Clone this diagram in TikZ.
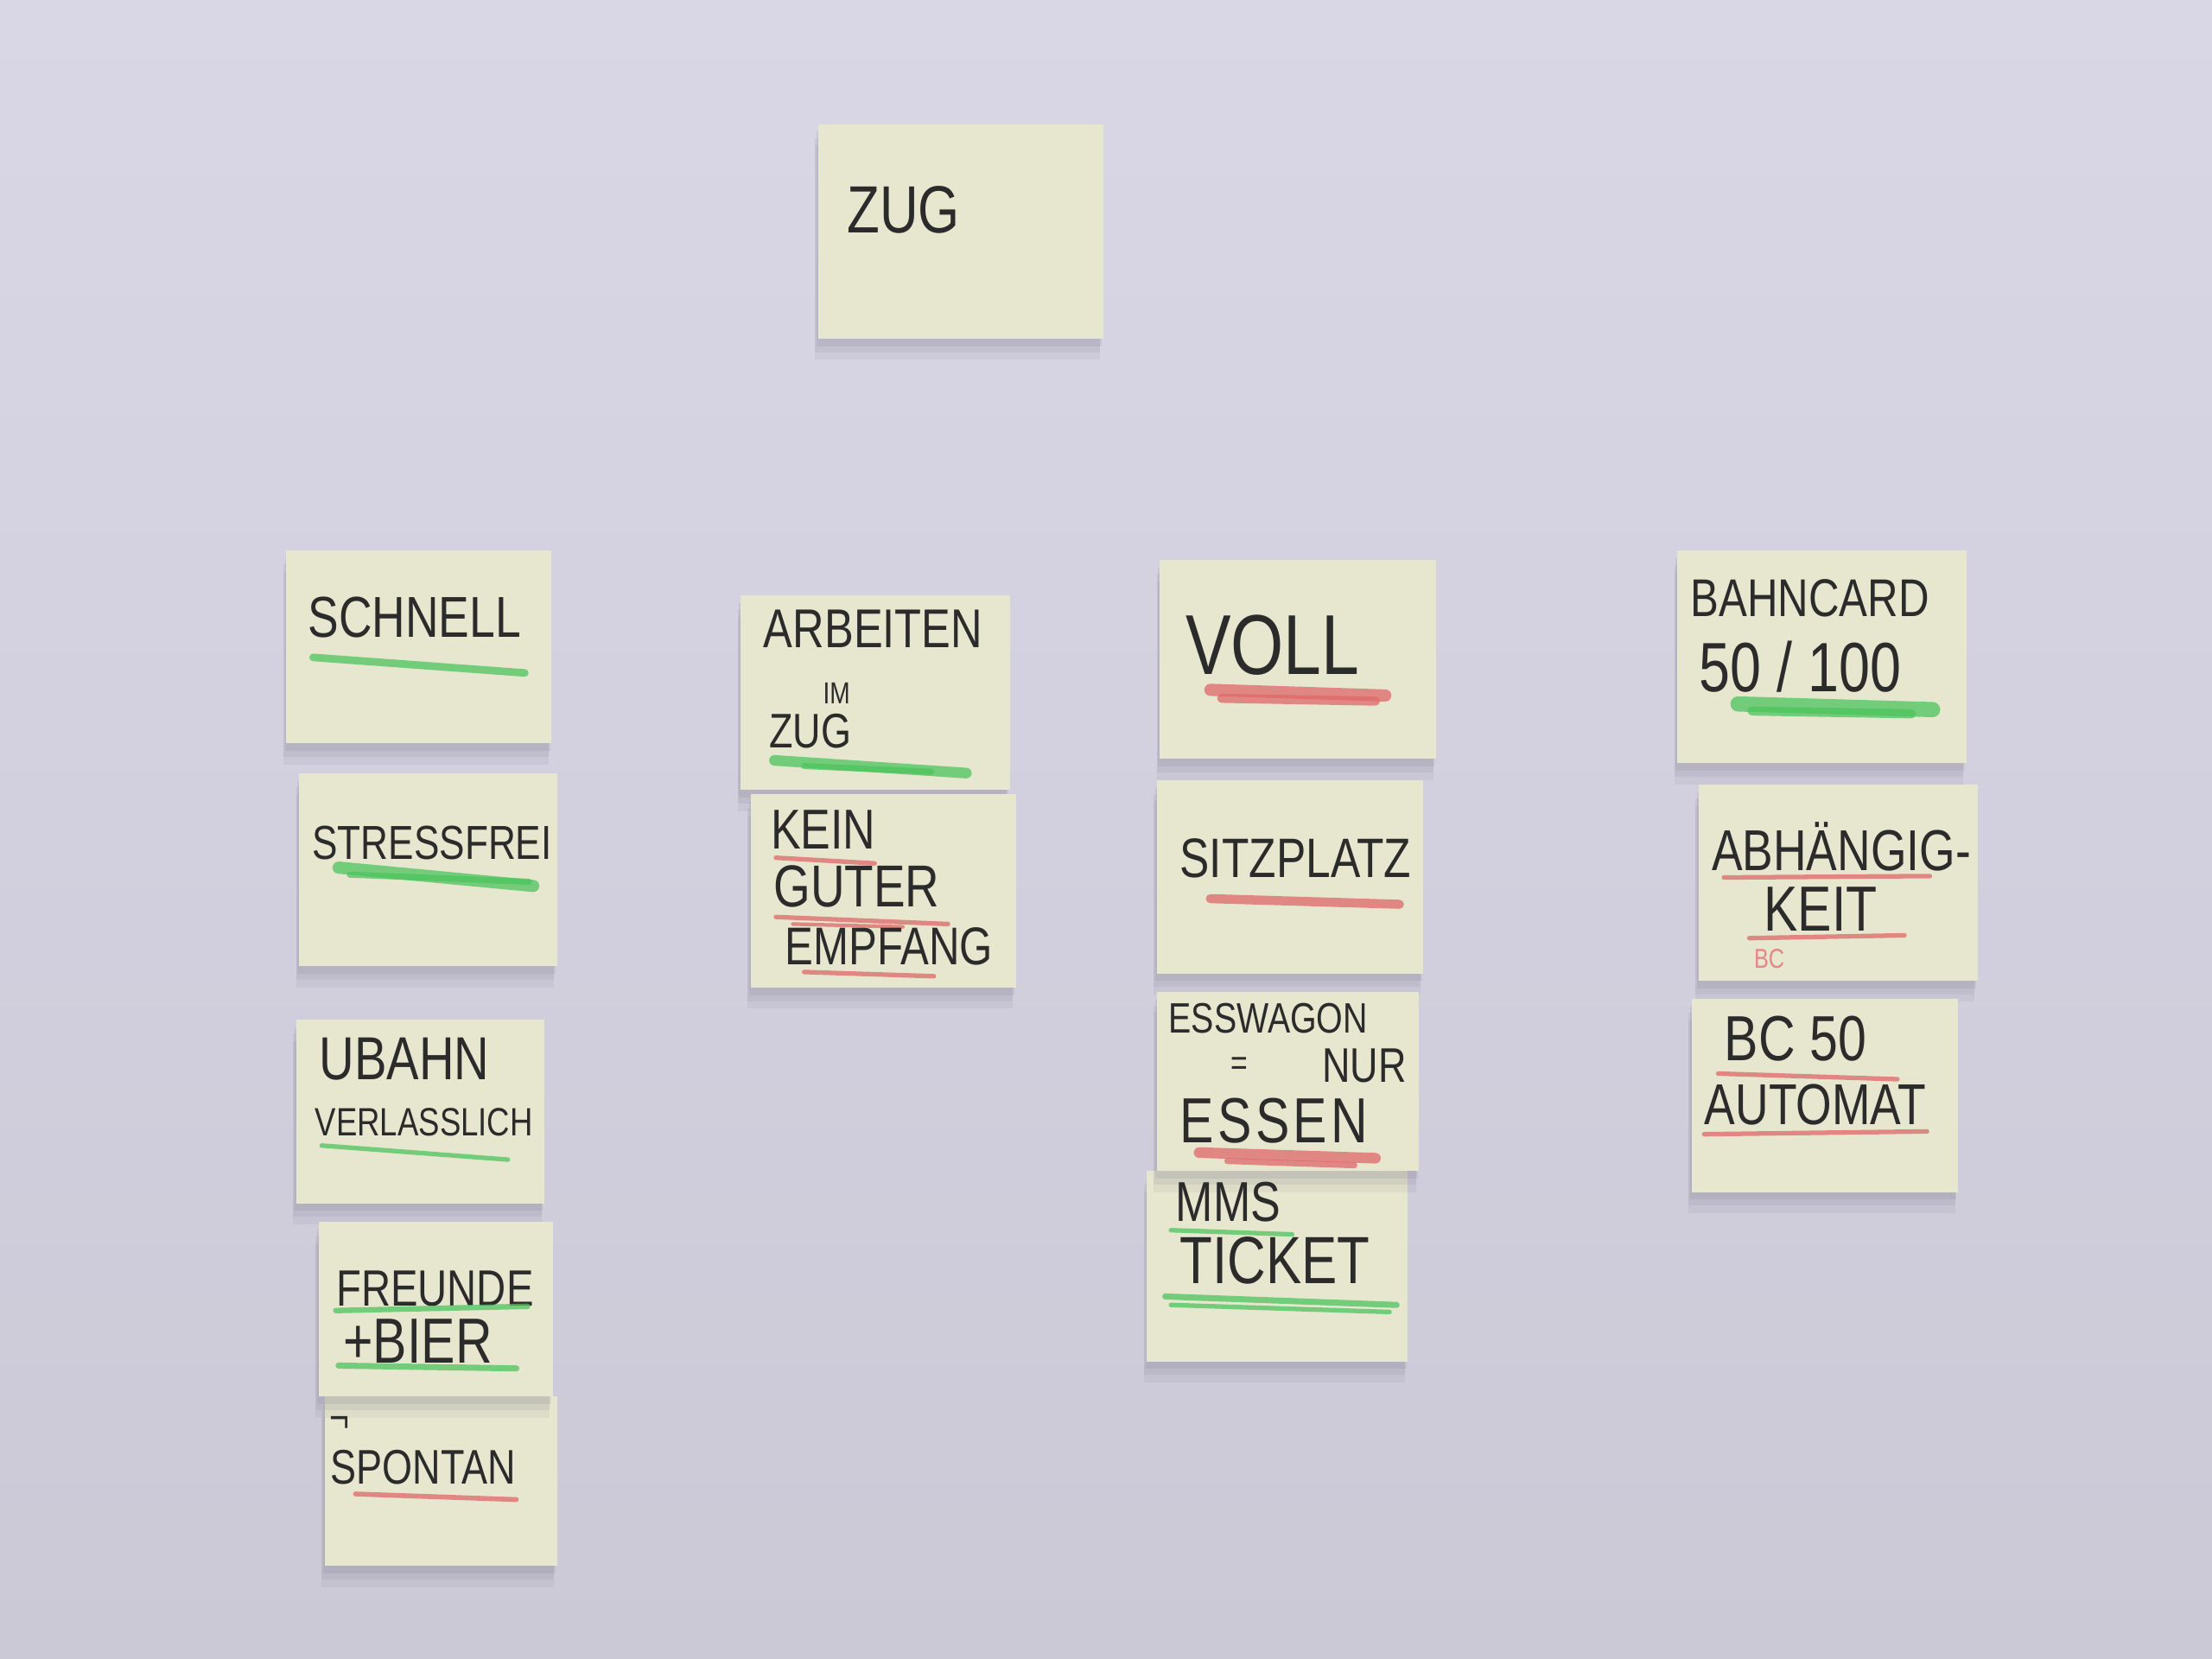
\documentclass[tikz,border=0pt]{standalone}
\usepackage{fontspec}
\setmainfont[FakeStretch=0.8]{Liberation Sans}
\usetikzlibrary{fit,shadows}
\definecolor{bgtop}{HTML}{D9D7E6}
\definecolor{bgbot}{HTML}{CBC9D6}
\definecolor{paper}{HTML}{E7E7CF}
\definecolor{pencil}{HTML}{2B2B2B}
\definecolor{mgreen}{HTML}{4DC45E}
\definecolor{mred}{HTML}{E0686A}
\definecolor{shadowc}{HTML}{7E7C8E}
\newcommand\hwfs[1]{\fontsize{#1}{#1}\selectfont}
\tikzset{
  note/.style={fill=paper, draw=none, inner sep=0pt,
    general shadow={fill=shadowc, opacity=0.10, shadow xshift=-1pt, shadow yshift=-7pt},
    general shadow={fill=shadowc, opacity=0.12, shadow xshift=-1pt, shadow yshift=-4.5pt},
    general shadow={fill=shadowc, opacity=0.15, shadow xshift=-0.5pt, shadow yshift=-2.5pt}},
  hw/.style={anchor=base west, inner sep=0pt, text=pencil},
  gline/.style={draw=mgreen, line width=#1, line cap=round, opacity=0.75},
  gline/.default=2.5pt,
  rline/.style={draw=mred, line width=#1, line cap=round, opacity=0.75},
  rline/.default=2pt,
}
\begin{document}
\begin{tikzpicture}[x=0.0163265cm, y=-0.0163265cm]
\useasboundingbox (0,0) rectangle (1568,1176);
\shade[top color=bgtop, bottom color=bgbot] (0,0) rectangle (1568,1176);

% ---- notes ----
\node[note, fit={(580,88) (782,240)}] (nzug) {};
\node[note, fit={(203,390) (391,527)}] (nschnell) {};
\node[note, fit={(212,548) (395,685)}] (nstress) {};
\node[note, fit={(210,723) (386,853)}] (nubahn) {};
\node[note, fit={(230,990) (395,1110)}] (nspontan) {};
\node[note, fit={(226,866) (392,990)}] (nfreunde) {};
\node[note, fit={(525,422) (716,560)}] (narbeiten) {};
\node[note, fit={(532,563) (720,700)}] (nkein) {};
\node[note, fit={(822,397) (1018,538)}] (nvoll) {};
\node[note, fit={(820,553) (1009,690)}] (nsitz) {};
\node[note, fit={(813,830) (998,965)}] (nmms) {};
\node[note, fit={(820,703) (1006,830)}] (ness) {};
\node[note, fit={(1189,390) (1394,541)}] (nbahn) {};
\node[note, fit={(1204,556) (1402,695)}] (nabh) {};
\node[note, fit={(1199,708) (1388,845)}] (nbc) {};

% ---- texts ----
\node[hw, font=\hwfs{22}] (tzug) at (600,165) {ZUG};

\node[hw, font=\hwfs{19}] (tschnell) at (218,452) {SCHNELL};
\draw[gline=2.5pt] (222,466) -- (372,477);

\node[hw, font=\hwfs{15.7}] (tstress) at (221,609) {STRESSFREI};
\draw[gline=4pt] (240,615) -- (378,628);
\draw[gline=2pt] (248,620) -- (375,625);

\node[hw, font=\hwfs{20}] (tubahn) at (226,765) {UBAHN};
\node[hw, font=\hwfs{13}] (tverl) at (223,805) {VERLASSLICH};
\draw[gline=1.5pt] (228,812) -- (360,822);

\node[hw, font=\hwfs{14}] (tneg) at (233,1015) {¬};
\node[hw, font=\hwfs{16}] (tspontan) at (234,1052) {SPONTAN};
\draw[rline=1.6pt] (252,1059) -- (366,1063);

\node[hw, font=\hwfs{16.8}] (tfreunde) at (238,926) {FREUNDE};
\draw[gline=1.8pt] (238,929) -- (374,926);
\node[hw, font=\hwfs{21}] (tbier) at (243,966) {+BIER};
\draw[gline=2pt] (240,968) -- (366,970);

\node[hw, font=\hwfs{18}] (tarb) at (541,459) {ARBEITEN};
\node[hw, font=\hwfs{10}] (tim) at (583,499) {IM};
\node[hw, font=\hwfs{16}] (tzug2) at (545,530) {ZUG};
\draw[gline=3.5pt] (549,539) -- (685,548);
\draw[gline=2pt] (570,543) -- (660,547);

\node[hw, font=\hwfs{18.5}] (tkein) at (546,602) {KEIN};
\draw[rline=1.5pt] (550,608) -- (620,612);
\node[hw, font=\hwfs{19.5}] (tguter) at (548,643) {GUTER};
\draw[rline=1.5pt] (550,650) -- (672,655);
\draw[rline=1.2pt] (562,655) -- (640,657);
\node[hw, font=\hwfs{17.5}] (tempf) at (556,684) {EMPFANG};
\draw[rline=1.5pt] (570,689) -- (662,692);

\node[hw, font=\hwfs{28}] (tvoll) at (840,478) {VOLL};
\draw[rline=4pt] (858,489) -- (982,493);
\draw[rline=3pt] (866,495) -- (975,497);

\node[hw, font=\hwfs{18.3}] (tsitz) at (836,622) {SITZPLATZ};
\draw[rline=3pt] (858,637) -- (992,641);

\node[hw, font=\hwfs{14}] (tesswagon) at (828,732) {ESSWAGON};
\node[hw, font=\hwfs{12}] (teq) at (872,762) {=};
\node[hw, font=\hwfs{16}] (tnur) at (937,767) {NUR};
\node[hw, font={\hwfs{21}\addfontfeature{LetterSpace=6}}] (tessen) at (836,810) {ESSEN};
\draw[rline=3.5pt] (850,817) -- (975,821);
\draw[rline=2pt] (870,823) -- (960,826);

\node[hw, font=\hwfs{18.5}] (tmms) at (833,866) {MMS};
\draw[gline=1.5pt] (830,872) -- (916,875);
\node[hw, font=\hwfs{22}] (tticket) at (836,910) {TICKET};
\draw[gline=2pt] (826,919) -- (990,925);
\draw[gline=1.5pt] (830,925) -- (985,930);

\node[hw, font=\hwfs{17.5}] (tbahncard) at (1198,437) {BAHNCARD};
\node[hw, font=\hwfs{23}] (t50) at (1204,490) {50 / 100};
\draw[gline=5pt] (1232,499) -- (1370,503);
\draw[gline=3pt] (1242,504) -- (1355,506);

\node[hw, font=\hwfs{19}] (tabh) at (1213,617) {ABHÄNGIG-};
\draw[rline=1.5pt] (1222,622) -- (1368,621);
\node[hw, font=\hwfs{21}] (tkeit) at (1250,660) {KEIT};
\draw[rline=1.5pt] (1240,665) -- (1350,663);
\node[hw, font=\hwfs{9}, text=mred!80] (tbcsmall) at (1243,686) {BC};

\node[hw, font=\hwfs{21}] (tbc50) at (1222,752) {BC 50};
\draw[rline=1.5pt] (1218,761) -- (1345,765);
\node[hw, font=\hwfs{19}] (tauto) at (1208,797) {AUTOMAT};
\draw[rline=1.5pt] (1208,804) -- (1366,802);
\end{tikzpicture}
\end{document}
